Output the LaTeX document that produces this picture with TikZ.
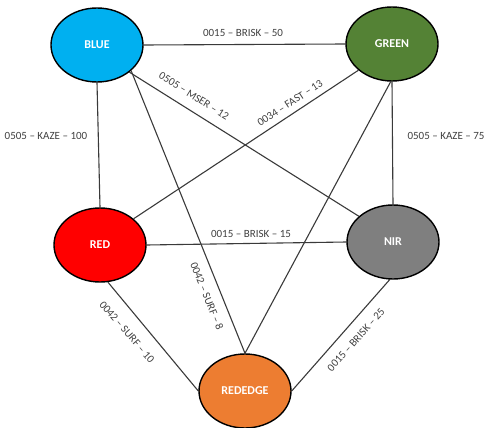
\documentclass[tikz,border=0pt]{standalone}
\usepackage{fontspec}
\setmainfont{Carlito}
\usetikzlibrary{shapes.geometric,backgrounds}
\definecolor{cblue}{HTML}{00B0F0}
\definecolor{cgreen}{HTML}{548235}
\definecolor{cred}{HTML}{FF0000}
\definecolor{cnir}{HTML}{7F7F7F}
\definecolor{credge}{HTML}{ED7D31}
\definecolor{cline}{HTML}{3A3A3A}
\tikzset{
  band/.style={ellipse, draw=black, line width=1.4pt, inner sep=0pt,
    minimum width=92pt, minimum height=74pt, text=white,
    font=\fontsize{12}{14}\selectfont\bfseries},
  link/.style={draw=cline, line width=1.1pt},
  lbl/.style={font=\fontsize{11}{13}\selectfont, text=black!75, inner sep=0pt}
}
\begin{document}
\begin{tikzpicture}[x=1pt,y=-1pt]
\useasboundingbox (0,0) rectangle (485,428);
\node[band, fill=cblue]  (BLUE)    at (97,45)  {BLUE};
\node[band, fill=cgreen] (GREEN)   at (392,44) {GREEN};
\node[band, fill=cred]   (RED)     at (100,245) {RED};
\node[band, fill=cnir]   (NIR)     at (393,242) {NIR};
\node[band, fill=credge] (REDEDGE) at (245,391) {REDEDGE};
\begin{scope}[on background layer]
\path[link] (BLUE.east) -- (GREEN.west);
\path[link] (BLUE.south) -- (RED.north);
\path[link] (GREEN.south) -- (NIR.north);
\path[link] (BLUE.-40) -- (NIR.143);
\path[link] (GREEN.218) -- (RED.38);
\path[link] (RED.east) -- (NIR.west);
\path[link] (BLUE.-37) -- (REDEDGE.north);
\path[link] (GREEN.-92) -- (REDEDGE.north);
\path[link] (RED.-78) -- (REDEDGE.west);
\path[link] (NIR.-95) -- (REDEDGE.east);
\end{scope}
% labels
\node[lbl] (l1) at (243,33) {0015 – BRISK – 50};
\node[lbl] (l2) at (46,136) {0505 – KAZE – 100};
\node[lbl] (l3) at (446,136) {0505 – KAZE – 75};
\node[lbl, rotate=-32] (l4) at (194,96) {0505 – MSER – 12};
\node[lbl, rotate=33] (l5) at (290,103) {0034 – FAST – 13};
\node[lbl] (l6) at (251,234) {0015 – BRISK – 15};
\node[lbl, rotate=-68] (l7) at (207,296) {0042 – SURF – 8};
\node[lbl, rotate=-49] (l8) at (127,332) {0042 – SURF – 10};
\node[lbl, rotate=48] (l9) at (356,340) {0015 – BRISK – 25};
\end{tikzpicture}
\end{document}
